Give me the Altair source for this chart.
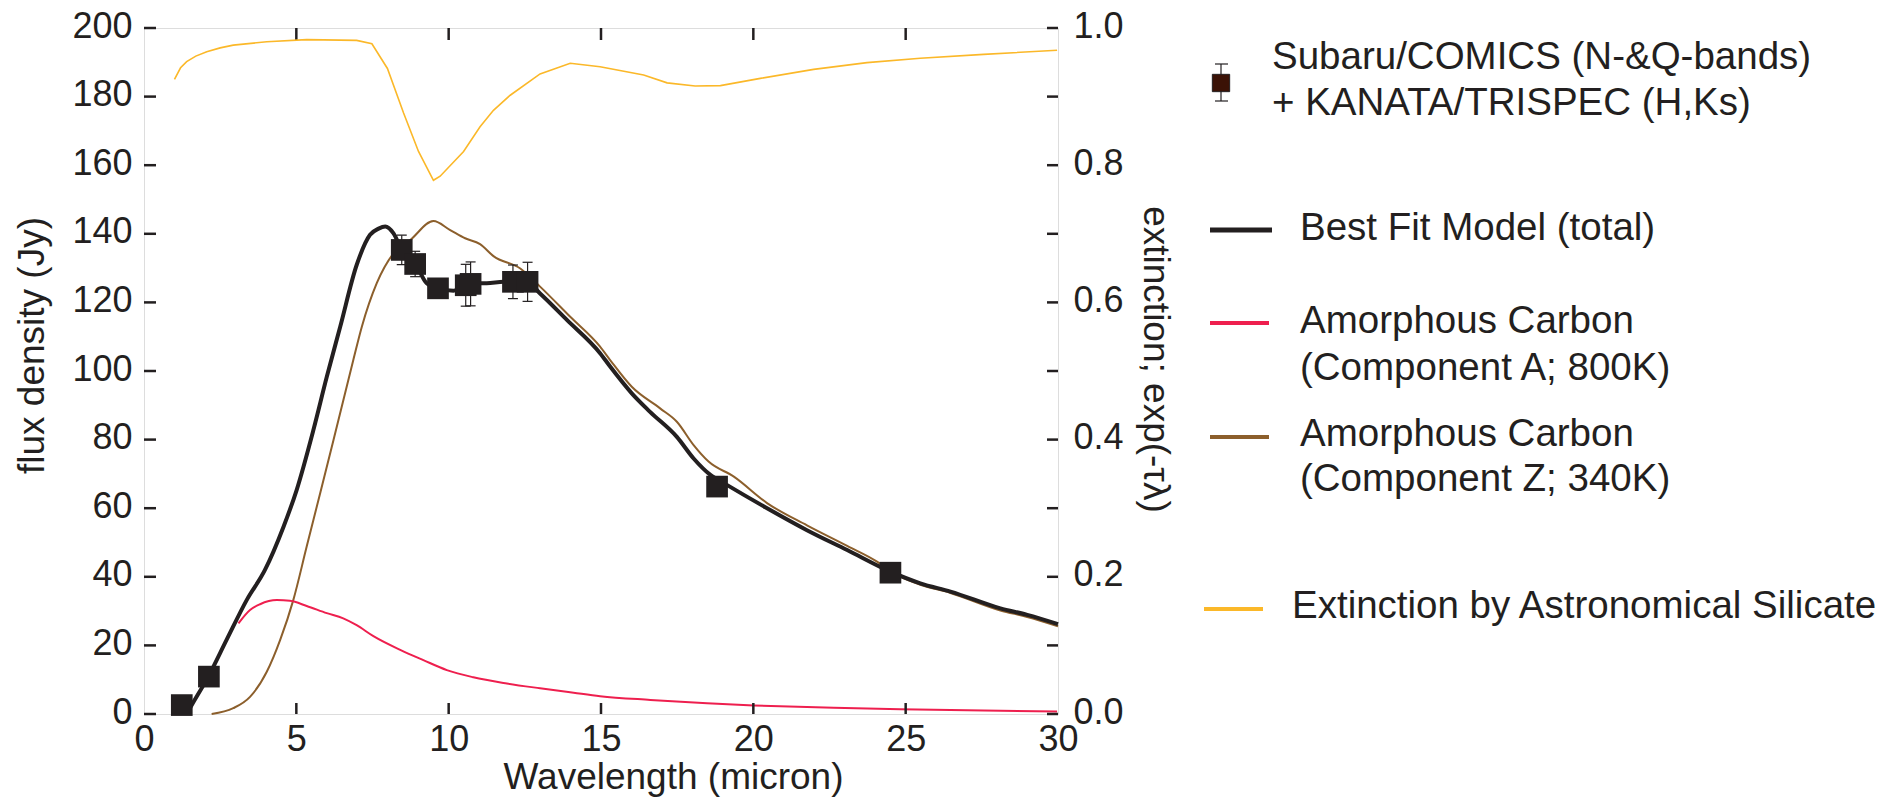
import altair as alt
import pandas as pd

# ---------------- data ----------------
OBS_WL = [1.24, 2.13, 8.46, 8.90, 9.65, 10.56, 10.72, 12.11, 12.59, 18.81, 24.50]
OBS_FLUX = [2.6, 10.9, 135.3, 131.2, 124.1, 125.0, 125.4, 126.0, 126.0, 66.3, 41.2]
OBS_ERR = [0.5, 0.8, 4.3, 3.7, 1.5, 6.1, 6.4, 4.9, 5.7, 1.0, 1.0]

TOTAL_WL = [1.4, 1.6, 2.11, 2.71, 3.37, 3.97, 4.58, 5.01, 5.56, 6.0, 6.44, 6.98, 7.42, 7.7,
            7.92, 8.19, 8.46, 8.9, 9.28, 9.67, 10.16, 10.7, 11.25, 11.8, 12.57, 13.0, 13.88,
            14.97, 15.3, 16.01, 16.61, 17.49, 18.04, 18.59, 19.13, 20.45, 21.76, 23.08, 24.5,
            25.48, 26.47, 28.11, 28.99, 30.0]
TOTAL_FLUX = [0.0, 3.1, 10.9, 21.6, 33.2, 42.0, 54.6, 65.3, 82.8, 98.3, 112.9, 130.9, 139.7, 141.5,
              142.1, 140.1, 135.3, 131.4, 125.6, 124.1, 123.4, 125.6, 125.6, 126.0, 126.0, 122.6, 114.9,
              105.2, 101.3, 93.5, 88.1, 80.8, 74.5, 69.7, 66.8, 60.0, 53.6, 47.8, 41.5,
              38.1, 35.7, 30.8, 28.9, 26.2]

COMP_A_WL = [3.1, 3.48, 3.81, 4.36, 4.79, 5.34, 6.0, 6.54, 6.98, 7.53, 8.41, 9.17, 9.94, 10.81,
             11.91, 13.0, 14.1, 14.97, 16.62, 18.48, 20.01, 22.64, 24.83, 27.56, 29.97]
COMP_A_FLUX = [26.4, 30.3, 32.0, 33.2, 33.0, 31.5, 29.4, 27.9, 25.9, 22.7, 18.7, 15.7, 12.8, 10.7,
               8.9, 7.5, 6.2, 5.2, 4.1, 3.1, 2.5, 1.8, 1.4, 1.0, 0.7]

COMP_Z_WL = [2.22, 2.93, 3.48, 4.03, 4.47, 4.9, 5.34, 5.78, 6.22, 6.87, 7.15, 7.64, 8.19, 8.74,
             9.5, 10.05, 10.54, 11.03, 11.47, 12.35, 13.0, 13.99, 14.97, 15.3, 16.01, 16.94, 17.49,
             18.04, 18.53, 19.36, 20.45, 21.76, 23.08, 24.06, 24.5, 25.48, 26.47, 28.11, 28.99, 30.0]
COMP_Z_FLUX = [0.0, 1.7, 5.0, 12.3, 21.6, 33.2, 48.8, 64.3, 79.9, 103.2, 112.9, 125.6, 134.3, 138.2,
               143.7, 141.1, 138.7, 137.0, 133.5, 129.9, 124.6, 115.8, 107.1, 103.2, 95.4, 89.1, 85.2,
               78.4, 73.6, 69.2, 61.5, 55.0, 49.0, 44.4, 41.6, 37.7, 35.3, 30.2, 28.3, 25.6]

EXT_WL = [1.0, 1.2, 1.4, 1.7, 2.06, 2.5, 2.93, 4.03, 5.34, 6.98, 7.48, 7.99, 8.52, 9.01, 9.5, 9.72,
          10.49, 11.03, 11.47, 12.02, 13.0, 13.99, 14.97, 16.4, 17.17, 18.09, 18.92, 20.23, 21.98,
          23.73, 25.48, 27.56, 29.97]
EXT_VAL = [0.925, 0.942, 0.951, 0.959, 0.9655, 0.971, 0.975, 0.98, 0.983, 0.982, 0.977, 0.941, 0.876,
           0.82, 0.778, 0.784, 0.82, 0.856, 0.88, 0.902, 0.933, 0.9485, 0.9436, 0.9315, 0.92, 0.9155,
           0.916, 0.9266, 0.9397, 0.9495, 0.9558, 0.9616, 0.9675]

X_TICK_LABELS = [0, 5, 10, 15, 20, 25, 30]
X_MINOR = [5, 10, 15, 20, 25]
FLUX_TICKS = [0, 20, 40, 60, 80, 100, 120, 140, 160, 180, 200]
EXT_LABELS = [0.0, 0.2, 0.4, 0.6, 0.8, 1.0]
EXT_TICKS = [0.0, 0.1, 0.2, 0.3, 0.4, 0.5, 0.6, 0.7, 0.8, 0.9, 1.0]

LEG_DATA = ["Subaru/COMICS (N-&Q-bands)", "+ KANATA/TRISPEC (H,Ks)"]
LEG_TOTAL = "Best Fit Model (total)"
LEG_A = ["Amorphous Carbon", "(Component A; 800K)"]
LEG_Z = ["Amorphous Carbon", " (Component Z; 340K)"]
LEG_EXT = "Extinction by Astronomical Silicate"

# ---------------- styling ----------------
FONT = "Liberation Sans"
INK = "#231f20"
C_TOTAL = "#231f20"
C_A = "#ee1f4e"
C_Z = "#8c5f2c"
C_EXT = "#fbb829"
W, H = 914, 686
LEG_FS = 38.5

obs = pd.DataFrame({"wl": OBS_WL, "flux": OBS_FLUX,
                    "lo": [f - e for f, e in zip(OBS_FLUX, OBS_ERR)],
                    "hi": [f + e for f, e in zip(OBS_FLUX, OBS_ERR)]})
total = pd.DataFrame({"wl": TOTAL_WL, "flux": TOTAL_FLUX})
comp_a = pd.DataFrame({"wl": COMP_A_WL, "flux": COMP_A_FLUX})
comp_z = pd.DataFrame({"wl": COMP_Z_WL, "flux": COMP_Z_FLUX})
ext = pd.DataFrame({"wl": EXT_WL, "ext": EXT_VAL})

x_scale = alt.Scale(domain=[0, 30], nice=False, zero=False)
flux_scale = alt.Scale(domain=[0, 200], nice=False)
ext_scale = alt.Scale(domain=[0, 1], nice=False)

common = dict(domain=False, ticks=False, tickSize=0, tickOpacity=0, grid=False,
              labelFontSize=36, labelFont=FONT, labelColor=INK,
              titleFontSize=37, titleFont=FONT, titleColor=INK, titleFontWeight="normal",
              titleBaseline="alphabetic", titleAlign="center")

x_axis = alt.Axis(values=X_TICK_LABELS, title="Wavelength (micron)", labelPadding=8,
                  labelFlush=False, titleX=529, titleY=74, **common)
flux_axis = alt.Axis(values=FLUX_TICKS, title="flux density (Jy)", labelPadding=12, labelOffset=-2,
                     titleX=-101, titleY=317, titleAngle=270, **common)
ext_axis = alt.Axis(values=EXT_LABELS, format=".1f", orient="right",
                    title="extinction; exp(-τλ)", labelPadding=15, labelOffset=-2,
                    titleX=85, titleY=331, titleAngle=90, **common)

X = alt.X("wl:Q", scale=x_scale, axis=x_axis)
YF = lambda f: alt.Y(f, type="quantitative", scale=flux_scale, axis=flux_axis)
YE = alt.Y("ext:Q", scale=ext_scale, axis=ext_axis)

brown = alt.Chart(comp_z).mark_line(color=C_Z, strokeWidth=2, interpolate="monotone").encode(x=X, y=YF("flux"))
red = alt.Chart(comp_a).mark_line(color=C_A, strokeWidth=2, interpolate="monotone").encode(x=X, y=YF("flux"))
black = alt.Chart(total).mark_line(color=C_TOTAL, strokeWidth=4, interpolate="monotone").encode(x=X, y=YF("flux"))
err = alt.Chart(obs).mark_rule(color=INK, strokeWidth=1.2).encode(x=X, y=YF("lo"), y2="hi:Q")
cap_lo = alt.Chart(obs).mark_tick(color=INK, orient="horizontal", size=10, thickness=1.2, opacity=1).encode(x=X, y=YF("lo"))
cap_hi = alt.Chart(obs).mark_tick(color=INK, orient="horizontal", size=10, thickness=1.2, opacity=1).encode(x=X, y=YF("hi"))
squares = alt.Chart(obs).mark_square(color=INK, size=470, opacity=1).encode(x=X, y=YF("flux"))

left_ticks = alt.Chart(pd.DataFrame({"flux": FLUX_TICKS})).mark_rule(color=INK, strokeWidth=2.5).encode(
    y=YF("flux"), x=alt.value(0), x2=alt.value(12))
xt = pd.DataFrame({"wl": X_MINOR})
bottom_ticks = alt.Chart(xt).mark_rule(color=INK, strokeWidth=2.5).encode(x=X, y=alt.value(H - 11), y2=alt.value(H))
top_ticks = alt.Chart(xt).mark_rule(color=INK, strokeWidth=2.5).encode(x=X, y=alt.value(0), y2=alt.value(12))

flux_group = alt.layer(brown, red, black, err, cap_lo, cap_hi, squares, left_ticks, bottom_ticks, top_ticks)

yellow = alt.Chart(ext).mark_line(color=C_EXT, strokeWidth=1.6).encode(x=X, y=YE)
right_ticks = alt.Chart(pd.DataFrame({"ext": EXT_TICKS})).mark_rule(color=INK, strokeWidth=2.5).encode(
    y=YE, x=alt.value(W - 11), x2=alt.value(W))
ext_group = alt.layer(yellow, right_ticks)


# ---------------- hand-made legend ----------------
def leg_text(label, x, y):
    return alt.Chart(pd.DataFrame({"t": [label]})).mark_text(
        align="left", baseline="alphabetic", font=FONT, fontSize=LEG_FS, color=INK
    ).encode(text="t:N", x=alt.value(x), y=alt.value(y))


def leg_line(label, color, sw, x1, x2, y):
    return alt.Chart(pd.DataFrame({"t": [label]})).mark_rule(color=color, strokeWidth=sw).encode(
        x=alt.value(x1), x2=alt.value(x2), y=alt.value(y))


legend = [
    leg_line(LEG_DATA[0], INK, 1.2, 1077, 1077, 36).encode(y2=alt.value(73)),
    leg_line(LEG_DATA[0], INK, 1.2, 1071, 1084, 36),
    leg_line(LEG_DATA[0], INK, 1.2, 1071, 1084, 73),
    alt.Chart(pd.DataFrame({"t": [LEG_DATA[0]]})).mark_square(
        color="#3b1206", size=300, opacity=1, stroke=INK, strokeWidth=1).encode(
        x=alt.value(1077), y=alt.value(55)),
    leg_text(LEG_DATA[0], 1128, 41),
    leg_text(LEG_DATA[1], 1128, 87),
    leg_line(LEG_TOTAL, C_TOTAL, 5, 1066, 1128, 202),
    leg_text(LEG_TOTAL, 1156, 212),
    leg_line(LEG_A[0], C_A, 4, 1066, 1125, 295),
    leg_text(LEG_A[0], 1156, 305),
    leg_text(LEG_A[1], 1156, 352),
    leg_line(LEG_Z[0], C_Z, 4, 1066, 1125, 409),
    leg_text(LEG_Z[0], 1156, 418),
    leg_text(LEG_Z[1], 1156, 463),
    leg_line(LEG_EXT, C_EXT, 4, 1060, 1119, 581),
    leg_text(LEG_EXT, 1148, 590),
]

chart = alt.layer(flux_group, ext_group, *legend).resolve_scale(y="independent").properties(
    width=W, height=H,
    autosize=alt.AutoSizeParams(type="none"),
    padding={"left": 136, "top": 20, "right": 820, "bottom": 83},
).configure_view(stroke=INK, strokeWidth=2.5).configure(background="white")

chart.save("out.html", embed_options={"renderer": "svg", "actions": False})
